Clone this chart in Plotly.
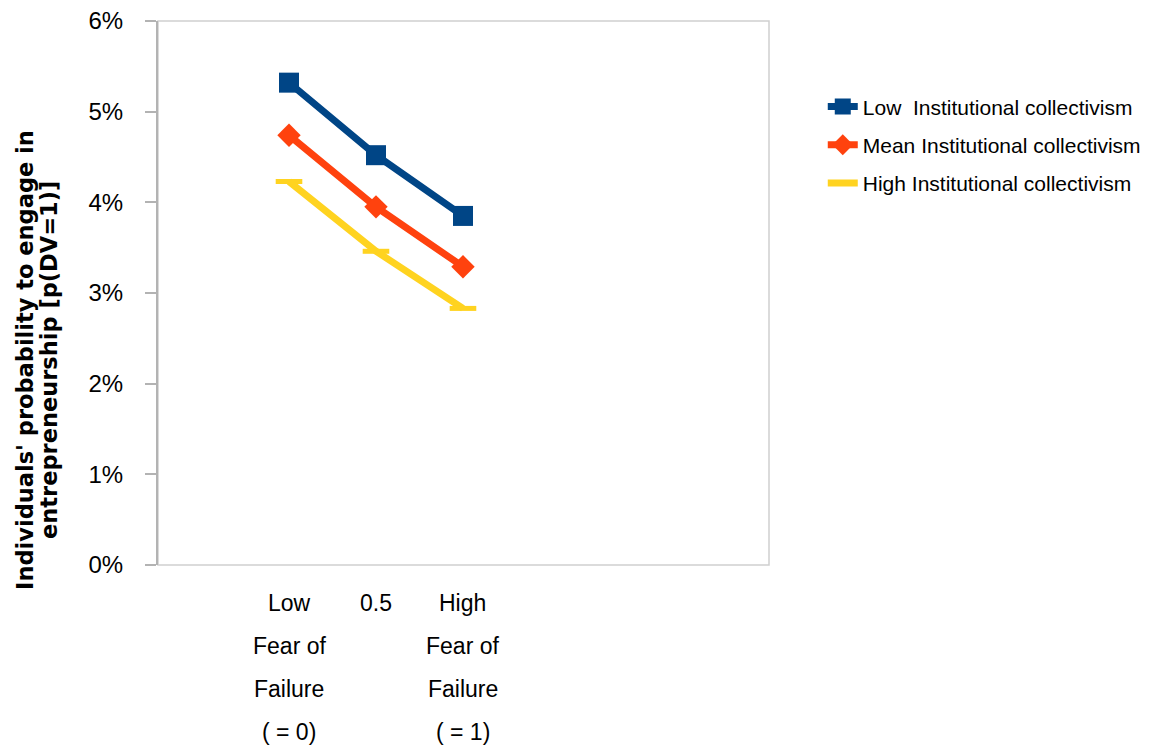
import plotly.graph_objects as go

x_vals = [0, 0.5, 1]
x_label_lines = [
    ["Low", "Fear of", "Failure", "( = 0)"],
    ["0.5"],
    ["High", "Fear of", "Failure", "( = 1)"],
]
series_names = ["Low  Institutional collectivism",
                "Mean Institutional collectivism",
                "High Institutional collectivism"]
low_vals = [0.0532, 0.0452, 0.0385]
mean_vals = [0.0474, 0.0395, 0.0329]
high_vals = [0.0423, 0.0346, 0.0283]
y_ticks = [0, 0.01, 0.02, 0.03, 0.04, 0.05, 0.06]
y_title_lines = ["Individuals' probability to engage in",
                 "entrepreneurship [p(DV=1)]"]

colors = ["#004586", "#ff420e", "#ffd320"]
symbols = ["square", "diamond", "line-ew-open"]
msizes = [20, 18, 19]

FONT = "Liberation Sans, Arial, sans-serif"
TFONT = "DejaVu Sans, Liberation Sans, sans-serif"

fig = go.Figure()
for i, (name, vals) in enumerate(zip(series_names, [low_vals, mean_vals, high_vals])):
    marker = dict(symbol=symbols[i], size=msizes[i], color=colors[i])
    if symbols[i] == "line-ew-open":
        marker["line"] = dict(color=colors[i], width=5)
    fig.add_trace(go.Scatter(
        x=x_vals, y=vals, mode="lines+markers", name=name,
        line=dict(color=colors[i], width=7),
        marker=marker, legendgroup=f"g{i}",
    ))

# x tick labels as multi-line annotations
shifts = [-38, -81, -124, -167]
for xv, lines in zip(x_vals, x_label_lines):
    for j, t in enumerate(lines):
        fig.add_annotation(x=xv, y=0, xref="x", yref="paper", text=t,
                           showarrow=False, yanchor="middle", xanchor="center",
                           yshift=shifts[j], font=dict(family=FONT, size=23, color="#000"))

# y-axis title, two lines
for xp, t in zip([-0.2177, -0.1784], y_title_lines):
    fig.add_annotation(x=xp, y=0.377, xref="paper", yref="paper",
                       text=f"<b>{t}</b>", textangle=-90, showarrow=False,
                       xanchor="center", yanchor="middle",
                       font=dict(family=TFONT, size=22.5, color="#000"))

# plot border (light)
fig.add_shape(type="rect", xref="paper", yref="paper", x0=0, y0=0, x1=1, y1=1,
              line=dict(color="#d0d0d0", width=1.5), layer="below")

fig.update_layout(
    width=1156, height=741,
    margin=dict(l=150, r=395, t=13, b=184, autoexpand=False),
    paper_bgcolor="white", plot_bgcolor="white",
    font=dict(family=FONT, size=20, color="#000"),
    showlegend=True,
    legend=dict(x=1.088, y=0.88, xanchor="left", yanchor="top",
                font=dict(family=FONT, size=21, color="#000"),
                tracegroupgap=8, bgcolor="rgba(0,0,0,0)"),
    xaxis=dict(range=[-0.753, 2.759], showgrid=False, zeroline=False,
               showticklabels=False, ticks="", showline=False, automargin=False),
    yaxis=dict(range=[0, 0.06], tickvals=y_ticks, tickformat=".0%",
               showgrid=False, zeroline=False, showline=True, automargin=False,
               linecolor="#b3b3b3", linewidth=2, ticks="outside",
               ticklen=11, tickwidth=2, tickcolor="#b3b3b3",
               ticklabelstandoff=17, ticklabeloverflow="allow",
               tickfont=dict(family=FONT, size=24, color="#000")),
)

fig.write_html("out.html")
